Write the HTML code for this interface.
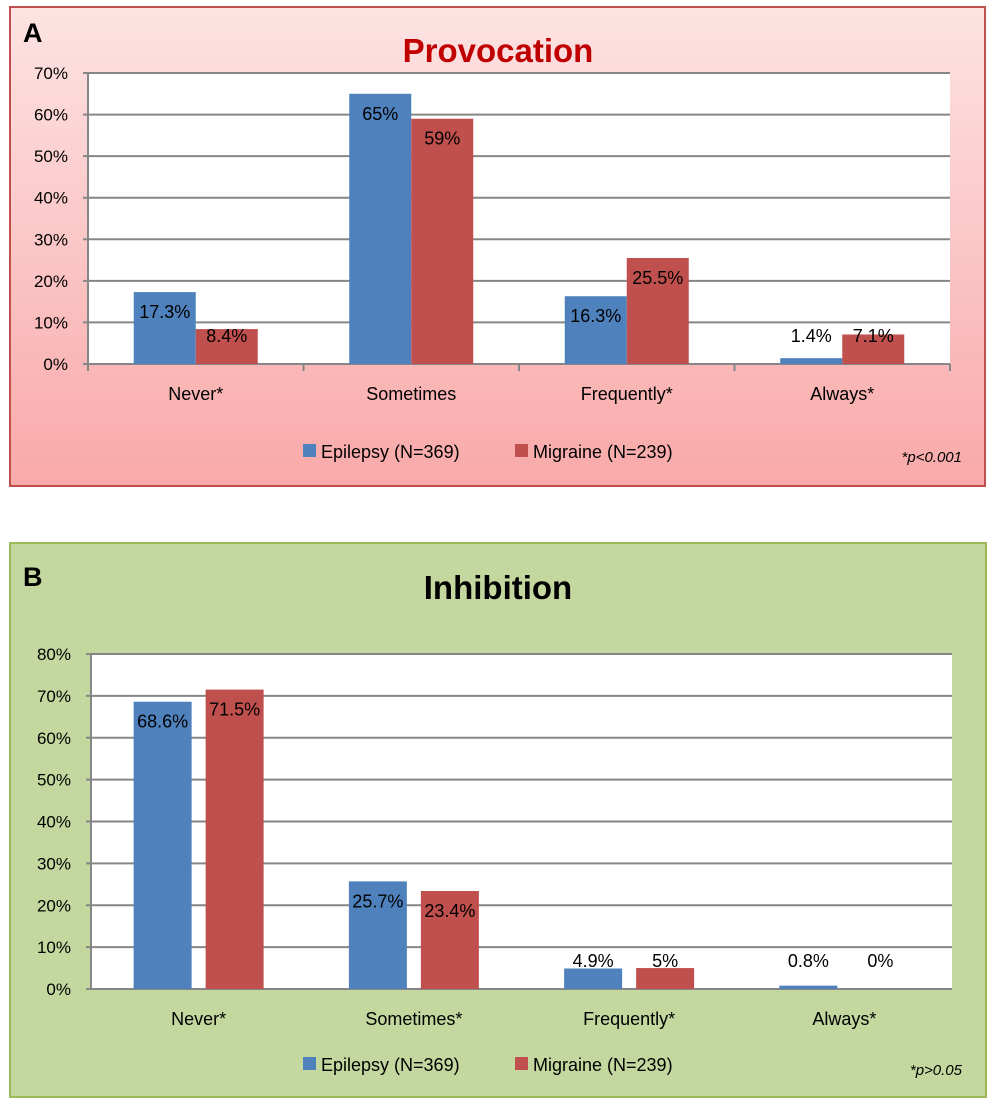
<!DOCTYPE html>
<html><head><meta charset="utf-8"><style>
html,body{margin:0;padding:0;background:#fff;width:996px;height:1112px;overflow:hidden}
svg{display:block;font-family:"Liberation Sans",sans-serif}
</style></head><body>
<svg id="s" width="996" height="1112" xmlns="http://www.w3.org/2000/svg">
<defs>
<linearGradient id="pg" x1="0" y1="0" x2="0" y2="1"><stop offset="0" stop-color="#fde3e3"/><stop offset="1" stop-color="#f9a9a9"/></linearGradient>
</defs>
<rect x="10" y="7" width="975" height="479" fill="url(#pg)" stroke="#c0504d" stroke-width="2"/>
<rect x="10" y="543" width="976" height="554" fill="#c4d79e" stroke="#9bbb59" stroke-width="2"/>
<text x="23" y="42" font-size="27" font-weight="bold">A</text>
<text x="498" y="62" font-size="33" font-weight="bold" fill="#c00000" text-anchor="middle">Provocation</text>
<text x="23" y="586" font-size="27" font-weight="bold">B</text>
<text x="498" y="599" font-size="33" font-weight="bold" text-anchor="middle">Inhibition</text>
<g id="ga"></g><g id="gb"></g>
</svg>
<script>
const categoriesA = ["Never*","Sometimes","Frequently*","Always*"];
const epilepsyA = [17.3,65,16.3,1.4];
const migraineA = [8.4,59,25.5,7.1];
const ticksA = [0,10,20,30,40,50,60,70];
const categoriesB = ["Never*","Sometimes*","Frequently*","Always*"];
const epilepsyB = [68.6,25.7,4.9,0.8];
const migraineB = [71.5,23.4,5,0];
const ticksB = [0,10,20,30,40,50,60,70,80];
const NS="http://www.w3.org/2000/svg";
function mk(p,tag,at,txt){const e=document.createElementNS(NS,tag);for(const k in at)e.setAttribute(k,at[k]);if(txt!=null)e.textContent=txt;p.appendChild(e);return e;}
function draw(g,o){
  const y=v=>o.bot-(v/o.max)*(o.bot-o.top);
  const cw=(o.right-o.left)/o.cats.length;
  const x=i=>o.left+cw*(i+0.5);
  const pr=mk(g,'rect',{x:o.left,y:o.top,width:o.right-o.left,height:o.bot-o.top,fill:'#fff'});
  
  
  o.ticks.forEach(t=>{
    const l=mk(g,'line',{x1:o.left-5,x2:o.right,y1:y(t),y2:y(t),stroke:'#868686','stroke-width':2});
    
    
    const tx=mk(g,'text',{x:o.left-20,y:y(t)+6,'font-size':17,'text-anchor':'end'},t+'%');
    
    
  });
  const ax=mk(g,'line',{x1:o.left,x2:o.left,y1:o.top,y2:o.bot,stroke:'#868686','stroke-width':2});
  
  
  if(o.xticks){for(let i=0;i<=o.cats.length;i++){const t=mk(g,'line',{x1:o.left+cw*i,x2:o.left+cw*i,y1:o.bot,y2:o.bot+7,stroke:'#868686','stroke-width':2});
    
    }}
  o.cats.forEach((c,i)=>{
    const ct=mk(g,'text',{x:x(i),y:o.bot+36,'font-size':18,'text-anchor':'middle'},c);
    
    
    [[o.e[i],'#4f81bd',-1,'bar-epilepsy'],[o.m[i],'#c0504d',1,'bar-migraine']].forEach(([v,col,s,nm])=>{
      const bx=s<0?x(i)-o.gap/2-o.bw:x(i)+o.gap/2;
      const b=mk(g,'rect',{x:bx,y:y(v),width:o.bw,height:o.bot-y(v),fill:col});
      
      
      const ly=Math.min(y(v)+26,o.bot-22);
      const lt=mk(g,'text',{x:bx+o.bw/2,y:ly,'font-size':18,'text-anchor':'middle'},v+'%');
      
      
    });
  });
  const ly=o.legY;
  const r1=mk(g,'rect',{x:303,y:ly-14,width:13,height:13,fill:'#4f81bd'});
  
  
  const t1=mk(g,'text',{x:321,y:ly,'font-size':18},'Epilepsy (N=369)');
  
  
  const r2=mk(g,'rect',{x:515,y:ly-14,width:13,height:13,fill:'#c0504d'});
  
  
  const t2=mk(g,'text',{x:533,y:ly,'font-size':18},'Migraine (N=239)');
  
  
  const pn=mk(g,'text',{x:962,y:ly+4,'font-size':15,'font-style':'italic','text-anchor':'end'},o.note);
  
  
}
draw(document.getElementById('ga'),{cats:categoriesA,e:epilepsyA,m:migraineA,ticks:ticksA,max:70,left:88,right:950,top:73,bot:364,bw:62,gap:0,xticks:true,legY:458,note:'*p<0.001'});
draw(document.getElementById('gb'),{cats:categoriesB,e:epilepsyB,m:migraineB,ticks:ticksB,max:80,left:91,right:952,top:654,bot:989,bw:58,gap:14,xticks:false,legY:1071,note:'*p>0.05'});
</script>
</body></html>
